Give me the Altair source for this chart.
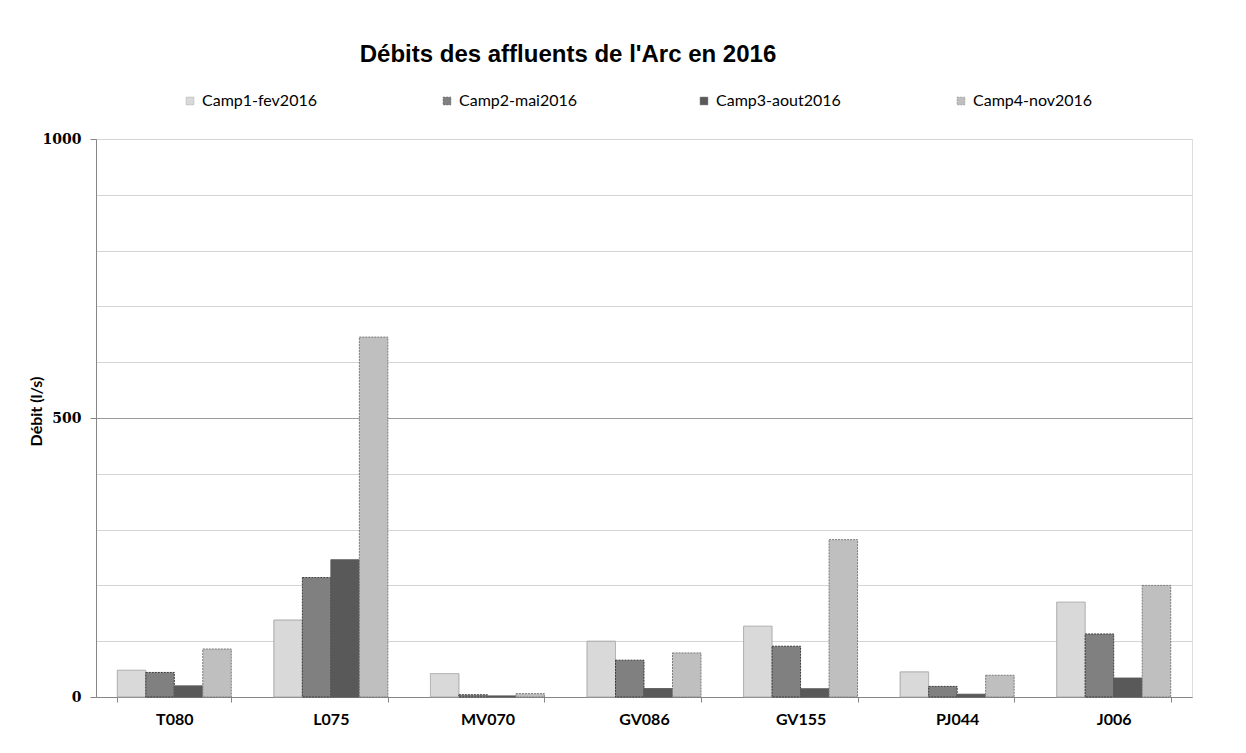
import altair as alt
import pandas as pd

stations = ["T080", "L075", "MV070", "GV086", "GV155", "PJ044", "J006"]
series = ["Camp1-fev2016", "Camp2-mai2016", "Camp3-aout2016", "Camp4-nov2016"]
camp1 = [48, 138, 42, 100, 127, 45, 170]
camp2 = [44, 214, 4, 66, 91, 19, 113]
camp3 = [20, 246, 2, 15, 15, 5, 34]
camp4 = [86, 645, 6, 79, 282, 39, 200]

fills = ["#d9d9d9", "#808080", "#595959", "#bfbfbf"]
strokes = ["#a6a6a6", "#3a3a3a", "#595959", "#7a7a7a"]
dashes = [[1, 0], [2, 1], [1, 0], [2, 1]]

rows = []
for s, vals in zip(series, [camp1, camp2, camp3, camp4]):
    for st, v in zip(stations, vals):
        rows.append({"station": st, "campagne": s, "debit": v})
df = pd.DataFrame(rows)

chart = alt.Chart(df).mark_bar(strokeWidth=1).encode(
    x=alt.X(
        "station:N", sort=stations, title=None,
        scale=alt.Scale(paddingInner=0.272, paddingOuter=0.136),
        axis=alt.Axis(labelAngle=0, tickBand="extent", tickSize=5, tickColor="#868686",
                      domainColor="#868686", labelFont="Lato", labelFontSize=16,
                      labelFontWeight="bold", labelColor="#000000", labelPadding=9, grid=False),
    ),
    xOffset=alt.XOffset("campagne:N", sort=series,
                        scale=alt.Scale(domain=series, paddingInner=0, paddingOuter=0)),
    y=alt.Y(
        "debit:Q", title="Débit (l/s)",
        scale=alt.Scale(domain=[0, 1000], nice=False),
        axis=alt.Axis(
            values=list(range(0, 1001, 100)),
            format="d",
            labelExpr="datum.value % 500 === 0 ? datum.label : ''",
            gridColor={"condition": {"test": "datum.value === 500", "value": "#9a9a9a"}, "value": "#d4d4d4"},
            tickOpacity={"condition": {"test": "datum.value % 500 === 0", "value": 1}, "value": 0},
            tickSize=6, tickColor="#868686", domainColor="#868686",
            labelFont="DejaVu Serif", labelFontSize=14, labelFontWeight="bold",
            labelColor="#000000", labelPadding=9,
            titleFont="Lato", titleFontSize=16, titleFontWeight="bold", titleColor="#000000",
            titleX=-60, titleY=272, titleAngle=270, titleAlign="center", titleBaseline="middle",
        ),
    ),
    color=alt.Color(
        "campagne:N", sort=series,
        scale=alt.Scale(domain=series, range=fills),
        legend=alt.Legend(
            title=None, orient="none", legendX=86, legendY=-46, direction="horizontal",
            columns=4, gridAlign="all", columnPadding=112, symbolType="square", symbolSize=60,
            symbolStrokeColor="#a0a0a0", symbolStrokeWidth=0.5,
            labelFont="Lato", labelFontSize=16, labelColor="#000000", labelOffset=4,
        ),
    ),
    stroke=alt.Stroke("campagne:N", scale=alt.Scale(domain=series, range=strokes), legend=None),
    strokeDash=alt.StrokeDash("campagne:N", scale=alt.Scale(domain=series, range=dashes), legend=None),
).properties(
    width=1096,
    height=558,
    autosize=alt.AutoSizeParams(type="none"),
    padding={"left": 96, "top": 139, "right": 54, "bottom": 56},
    title=alt.TitleParams(
        "Débits des affluents de l'Arc en 2016",
        font="Liberation Sans", fontSize=24, fontWeight="bold", color="#000000",
        anchor="middle", dx=-76, offset=26,
    ),
).configure_view(stroke="#a6a6a6").configure(background="#ffffff")

chart.save("out.html", embed_options={"renderer": "svg", "actions": False})
